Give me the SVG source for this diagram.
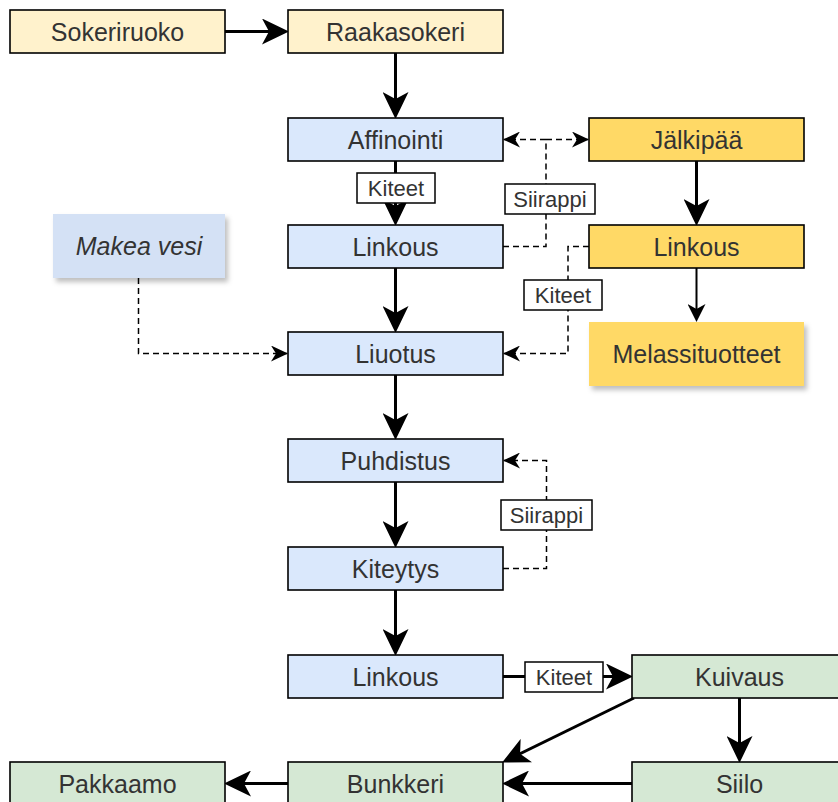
<svg xmlns="http://www.w3.org/2000/svg" width="838" height="802" viewBox="0 0 838 802">
<style>
.n rect{stroke:#000;stroke-width:1.6}
.t{font-family:"Liberation Sans",Arial,sans-serif;font-size:25px;fill:#333;text-anchor:middle}
.lbl rect{fill:#fff;stroke:#000;stroke-width:1.5}
.lbl text{font-family:"Liberation Sans",Arial,sans-serif;font-size:22px;fill:#333;text-anchor:middle}
.y{fill:#fff2cc}.b{fill:#dae8fc}.o{fill:#ffd966}.g{fill:#d5e8d4}
.thick{fill:none;stroke:#000;stroke-width:3;marker-end:url(#big)}
.mid{fill:none;stroke:#000;stroke-width:2;marker-end:url(#med)}
.dash{fill:none;stroke:#000;stroke-width:1.5;stroke-dasharray:6 4;marker-end:url(#sm)}
</style>
<defs>
<marker id="big" markerUnits="userSpaceOnUse" markerWidth="27" markerHeight="26" viewBox="0 0 27 26" refX="23" refY="13" orient="auto">
<path d="M0,0 L27,13 L0,26 L7,13 Z" fill="#000"/>
</marker>
<marker id="med" markerUnits="userSpaceOnUse" markerWidth="18" markerHeight="18" viewBox="0 0 18 18" refX="15" refY="9" orient="auto">
<path d="M0,0 L18,9 L0,18 L5,9 Z" fill="#000"/>
</marker>
<marker id="sm" markerUnits="userSpaceOnUse" markerWidth="17" markerHeight="16" viewBox="0 0 17 16" refX="16" refY="8" orient="auto">
<path d="M0,0 L17,8 L0,16 L5,8 Z" fill="#000"/>
</marker>
<filter id="sh" x="-10%" y="-10%" width="130%" height="140%">
<feDropShadow dx="3" dy="4" stdDeviation="2.5" flood-color="#000" flood-opacity="0.25"/>
</filter>
</defs>

<g id="connectors">
<path class="thick" d="M225,31.5 H285"/>
<path class="thick" d="M395.5,53 V115"/>
<path class="thick" d="M395.5,161 V222"/>
<path class="thick" d="M395.5,268 V329"/>
<path class="thick" d="M395.5,375 V436"/>
<path class="thick" d="M395.5,482 V544"/>
<path class="thick" d="M395.5,590 V652"/>
<path class="thick" d="M503,676.5 H629"/>
<path class="thick" d="M739.5,698 V759"/>
<path class="thick" d="M634,698 L505.7,760.7"/>
<path class="thick" d="M632,783.5 H506"/>
<path class="thick" d="M288,783.5 H228"/>
<path class="thick" d="M696.5,161 V222"/>
<path class="mid" d="M696.5,268 V319"/>
<path class="dash" d="M503,246.5 H546 V139.5 H504"/>
<path class="dash" d="M546,139.5 H588"/>
<path class="dash" d="M589,246.5 H568 V353.5 H504"/>
<path class="dash" d="M503,568.5 H546.5 V460.5 H504"/>
<path class="dash" d="M138.5,278 V353.5 H287"/>
<g class="lbl">
<rect x="357" y="173" width="78" height="30"/><text x="396" y="196">Kiteet</text>
<rect x="505" y="184" width="90" height="30"/><text x="550" y="207">Siirappi</text>
<rect x="524" y="280" width="78" height="30"/><text x="563" y="303">Kiteet</text>
<rect x="501" y="500" width="91" height="30"/><text x="546.5" y="523">Siirappi</text>
<rect x="525" y="662" width="78" height="30"/><text x="564" y="685">Kiteet</text>
</g>
</g>

<g id="sokeriruoko" class="n"><rect class="y" x="10" y="10" width="215" height="43"/><text class="t" x="117.5" y="40.5">Sokeriruoko</text></g>
<g id="raakasokeri" class="n"><rect class="y" x="288" y="10" width="215" height="43"/><text class="t" x="395.5" y="40.5">Raakasokeri</text></g>
<g id="affinointi" class="n"><rect class="b" x="288" y="118" width="215" height="43"/><text class="t" x="395.5" y="148.5">Affinointi</text></g>
<g id="linkous1" class="n"><rect class="b" x="288" y="225" width="215" height="43"/><text class="t" x="395.5" y="255.5">Linkous</text></g>
<g id="liuotus" class="n"><rect class="b" x="288" y="332" width="215" height="43"/><text class="t" x="395.5" y="362.5">Liuotus</text></g>
<g id="puhdistus" class="n"><rect class="b" x="288" y="439" width="215" height="43"/><text class="t" x="395.5" y="469.5">Puhdistus</text></g>
<g id="kiteytys" class="n"><rect class="b" x="288" y="547" width="215" height="43"/><text class="t" x="395.5" y="577.5">Kiteytys</text></g>
<g id="linkous3" class="n"><rect class="b" x="288" y="655" width="215" height="43"/><text class="t" x="395.5" y="685.5">Linkous</text></g>
<g id="bunkkeri" class="n"><rect class="g" x="288" y="762" width="215" height="43"/><text class="t" x="395.5" y="792.5">Bunkkeri</text></g>
<g id="pakkaamo" class="n"><rect class="g" x="10" y="762" width="215" height="43"/><text class="t" x="117.5" y="792.5">Pakkaamo</text></g>
<g id="kuivaus" class="n"><rect class="g" x="632" y="655" width="215" height="43"/><text class="t" x="739.5" y="685.5">Kuivaus</text></g>
<g id="siilo" class="n"><rect class="g" x="632" y="762" width="215" height="43"/><text class="t" x="739.5" y="792.5">Siilo</text></g>
<g id="jalkipaa" class="n"><rect class="o" x="589" y="118" width="215" height="43"/><text class="t" x="696.5" y="148.5">Jälkipää</text></g>
<g id="linkous2" class="n"><rect class="o" x="589" y="225" width="215" height="43"/><text class="t" x="696.5" y="255.5">Linkous</text></g>
<g id="melassituotteet"><rect x="589" y="322" width="215" height="64" fill="#ffd966" filter="url(#sh)"/><text class="t" x="696.5" y="362.5">Melassituotteet</text></g>
<g id="makeavesi"><rect x="53" y="214" width="172" height="64" fill="#d4e1f5" filter="url(#sh)"/><text class="t" x="139" y="254.5" font-style="italic">Makea vesi</text></g>
</svg>
